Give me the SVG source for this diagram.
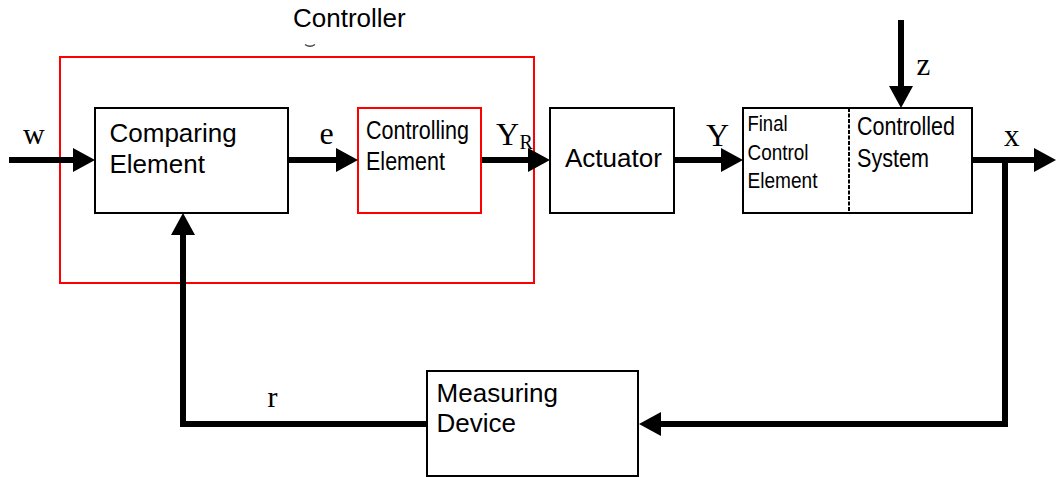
<svg xmlns="http://www.w3.org/2000/svg" width="1056" height="477" viewBox="0 0 1056 477">
  <style>
    .box { fill: #ffffff; stroke: #000000; stroke-width: 2; }
    .red { fill: none; stroke: #ff0000; stroke-width: 2; }
    .wire { fill: none; stroke: #000000; stroke-width: 6; stroke-linejoin: miter; marker-end: url(#head); }
    .sans { font-family: "Liberation Sans", Arial, sans-serif; fill: #000000; }
    .serif { font-family: "Liberation Serif", "Times New Roman", serif; fill: #000000; }
  </style>
  <defs>
    <marker id="head" markerUnits="userSpaceOnUse" markerWidth="22" markerHeight="24" refX="0" refY="12" orient="auto">
      <path d="M0,0 L22,12 L0,24 Z" fill="#000000"/>
    </marker>
  </defs>

  <rect width="1056" height="477" fill="#ffffff"/>

  <!-- controller boundary -->
  <g id="controller">
    <rect class="red" x="60" y="57" width="474" height="226"/>
    <text class="sans" x="293" y="27" font-size="26">Controller</text>
    <path d="M305,44.5 Q310,48 315,44.5" fill="none" stroke="#444444" stroke-width="1.5"/>
  </g>

  <g id="comparing-element">
    <rect class="box" x="95" y="108" width="193" height="105"/>
    <text class="sans" x="109.5" y="142" font-size="26">Comparing</text>
    <text class="sans" x="109.5" y="172.5" font-size="26">Element</text>
  </g>

  <g id="controlling-element">
    <rect class="red" x="358" y="108" width="123" height="105"/>
    <text class="sans" x="366" y="138.5" font-size="25" textLength="103" lengthAdjust="spacingAndGlyphs">Controlling</text>
    <text class="sans" x="366" y="169.5" font-size="25" textLength="79" lengthAdjust="spacingAndGlyphs">Element</text>
  </g>

  <g id="actuator">
    <rect class="box" x="550" y="108" width="124" height="105"/>
    <text class="sans" x="565" y="166.7" font-size="26">Actuator</text>
  </g>

  <g id="plant">
    <rect class="box" x="743" y="108" width="229" height="105"/>
    <line x1="849" y1="108" x2="849" y2="213" stroke="#000000" stroke-width="2" stroke-dasharray="4 1.5"/>
    <text class="sans" x="747.5" y="130.7" font-size="22" textLength="40" lengthAdjust="spacingAndGlyphs">Final</text>
    <text class="sans" x="747.5" y="160" font-size="22" textLength="61" lengthAdjust="spacingAndGlyphs">Control</text>
    <text class="sans" x="747.5" y="187.5" font-size="22" textLength="70" lengthAdjust="spacingAndGlyphs">Element</text>
    <text class="sans" x="857" y="135" font-size="25" textLength="98" lengthAdjust="spacingAndGlyphs">Controlled</text>
    <text class="sans" x="857" y="166.7" font-size="25" textLength="72" lengthAdjust="spacingAndGlyphs">System</text>
  </g>

  <g id="measuring-device">
    <rect class="box" x="427" y="371" width="211" height="105"/>
    <text class="sans" x="436.6" y="402.3" font-size="26">Measuring</text>
    <text class="sans" x="436.6" y="432.3" font-size="26">Device</text>
  </g>

  <!-- signal lines -->
  <g id="connectors">
    <path class="wire" d="M9,160 H73"/>
    <path class="wire" d="M289,160 H336"/>
    <path class="wire" d="M482,160 H528"/>
    <path class="wire" d="M675,160 H721"/>
    <path class="wire" d="M973,160 H1034"/>
    <path class="wire" d="M901,20 V86"/>
    <path class="wire" d="M1005,160 V424 H661"/>
    <path class="wire" d="M427,424 H183 V235"/>
  </g>

  <!-- signal names -->
  <g id="labels">
    <text class="serif" x="23" y="144" font-size="30">w</text>
    <text class="serif" x="319.5" y="144" font-size="32">e</text>
    <text class="serif" x="496" y="145" font-size="32">Y</text>
    <text class="serif" x="519.5" y="149" font-size="20">R</text>
    <text class="serif" x="706" y="145.7" font-size="32">Y</text>
    <text class="serif" x="916.5" y="75" font-size="31">z</text>
    <text class="serif" x="1004" y="145.7" font-size="31">x</text>
    <text class="serif" x="267.5" y="407.3" font-size="30">r</text>
  </g>
</svg>
